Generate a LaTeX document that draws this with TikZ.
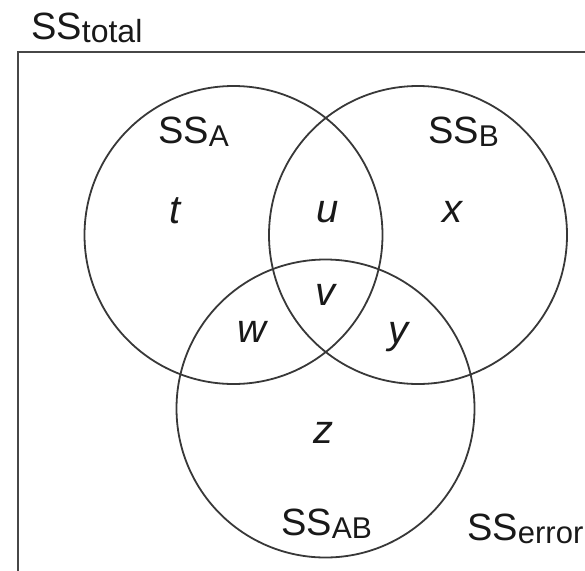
\documentclass[tikz,border=0pt]{standalone}
\usepackage{fontspec}
\setmainfont{Liberation Sans}
\newcommand{\sslab}[2]{{\fontsize{38}{38}\selectfont SS\raisebox{-3pt}{\fontsize{#2}{#2}\selectfont #1}}}
\begin{document}
\begin{tikzpicture}[x=1pt,y=-1pt,
  venn/.style={draw=black!78, line width=1.8pt, circle, minimum size=298pt, inner sep=0pt},
  frame/.style={draw=black!72, line width=2.2pt},
  ssl/.style={anchor=base west, inner sep=0pt, text=black!90},
  var/.style={inner sep=0pt, text=black!90, font=\fontsize{40}{40}\selectfont\itshape}]
\useasboundingbox (0,0) rectangle (585,570);
\begin{scope}
\clip (0,0) rectangle (585,570);
\draw[frame] (18,52) rectangle (620,620);
\node[venn] (A) at (233.5,235) {};
\node[venn] (B) at (418,235) {};
\node[venn] (C) at (325.5,408.5) {};
\node[ssl] (sst) at (31,39) {\sslab{total}{32}};
\node[ssl] (ssa) at (158,143) {\sslab{A}{30}};
\node[ssl] (ssb) at (428,143) {\sslab{B}{30}};
\node[ssl] (ssab) at (281,535) {\sslab{AB}{30}};
\node[ssl] (sse) at (467,540) {\sslab{error}{31}};
\node[var] (t) at (175,211) {t};
\node[var] (u) at (328,212) {u};
\node[var] (x) at (452,212) {x};
\node[var] (v) at (325,295) {v};
\node[var] (w) at (252,332) {w};
\node[var] (y) at (398,337) {y};
\node[var] (z) at (323,433) {z};
\end{scope}
\end{tikzpicture}
\end{document}
